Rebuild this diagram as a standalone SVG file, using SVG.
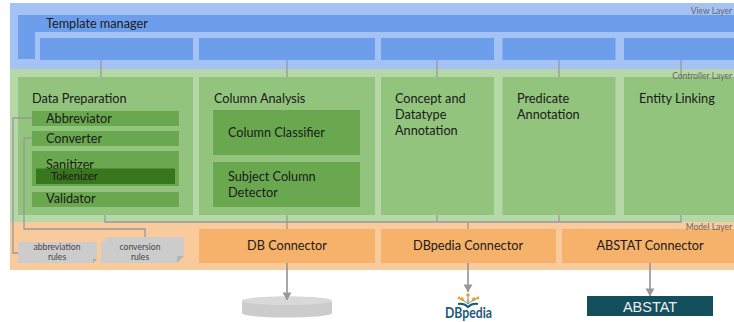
<svg xmlns="http://www.w3.org/2000/svg" width="734" height="322" viewBox="0 0 734 322">
<style>
text{font-family:Lato,"Liberation Sans",sans-serif;fill:#1a1a1a}
.t{font-size:12.700px}
.c{text-anchor:middle}
.layer{font-size:8.500px;fill:#666;text-anchor:end}
.rule{font-size:8.600px;fill:#444;text-anchor:middle}
.v{fill:#6d9eeb}
.g{fill:#93c47d}
.s{fill:#6aa84f}
.o{fill:#f6b26b}
.n{fill:#ccc}
.w{fill:none;stroke:#999;stroke-width:1.300}
.a{fill:none;stroke:#999;stroke-width:1.700;marker-end:url(#arr)}
</style>
<defs>
<marker id="arr" viewBox="0 0 10 10" refX="9.500" refY="5" markerWidth="8" markerHeight="9" markerUnits="userSpaceOnUse" orient="auto-start-reverse" preserveAspectRatio="none"><path d="M0 0L10 5L0 10Z" fill="#999"/></marker>
</defs>
<g id="layers">
<rect x="10" y="3" width="724" height="66" fill="#a4c2f4"/>
<rect x="10" y="69" width="724" height="153" fill="#b6d7a8"/>
<rect x="10" y="222" width="724" height="48" fill="#f9cb9c"/>
</g>
<g id="template-manager">
<path class="v" d="M18 15H734V32H35V59H18Z"/>
<text class="t" x="46" y="28">Template manager</text>
</g>
<g id="view-boxes">
<rect class="v" x="40" y="38" width="153" height="22"/>
<rect class="v" x="199" y="38" width="176" height="22"/>
<rect class="v" x="381" y="38" width="113" height="22"/>
<rect class="v" x="502.500" y="38" width="113" height="22"/>
<rect class="v" x="624" y="38" width="110" height="22"/>
</g>
<g id="data-preparation">
<rect class="g" x="18" y="77" width="175" height="138"/>
<text class="t" x="32" y="103">Data Preparation</text>
<g id="abbreviator"><rect class="s" x="32" y="111" width="147" height="15"/><text class="t" x="46" y="123">Abbreviator</text></g>
<g id="converter"><rect class="s" x="32" y="131" width="147" height="15"/><text class="t" x="46" y="143">Converter</text></g>
<g id="sanitizer"><rect class="s" x="32" y="151" width="147" height="35"/><text class="t" x="46" y="169">Sanitizer</text></g>
<g id="tokenizer"><rect x="36" y="168.500" width="139" height="15.500" fill="#38761d"/><text x="51" y="180" style="font-size:11.200px">Tokenizer</text></g>
<g id="validator"><rect class="s" x="32" y="192" width="147" height="15"/><text class="t" x="46" y="203">Validator</text></g>
</g>
<g id="column-analysis">
<rect class="g" x="199" y="77" width="176" height="138"/>
<text class="t" x="214" y="103">Column Analysis</text>
<g id="column-classifier"><rect class="s" x="213" y="110" width="147" height="45"/><text class="t" x="228" y="137">Column Classifier</text></g>
<g id="subject-detector"><rect class="s" x="213" y="162" width="147" height="45"/><text class="t" x="228" y="181">Subject Column</text><text class="t" x="228" y="197">Detector</text></g>
</g>
<g id="concept-annotation">
<rect class="g" x="381" y="77" width="113" height="138"/>
<text class="t" x="395" y="103">Concept and</text><text class="t" x="395" y="119">Datatype</text><text class="t" x="395" y="135">Annotation</text>
</g>
<g id="predicate-annotation">
<rect class="g" x="502.500" y="77" width="113" height="138"/>
<text class="t" x="517" y="103">Predicate</text><text class="t" x="517" y="119">Annotation</text>
</g>
<g id="entity-linking">
<rect class="g" x="624" y="77" width="110" height="138"/>
<text class="t" x="639" y="103">Entity Linking</text>
</g>
<g id="db-connector"><rect class="o" x="199" y="229" width="176" height="34"/><text class="t c" x="287" y="250">DB Connector</text></g>
<g id="dbpedia-connector"><rect class="o" x="381" y="229" width="175" height="34"/><text class="t c" x="468" y="250">DBpedia Connector</text></g>
<g id="abstat-connector"><rect class="o" x="562" y="229" width="172" height="34"/><text class="t c" x="650" y="250">ABSTAT Connector</text></g>
<g id="abbreviation-rules">
<path class="n" d="M18 242H97V259L93 263H18Z"/>
<path d="M97 259H93V263Z" fill="#aaa"/>
<text class="rule" x="57" y="250">abbreviation</text><text class="rule" x="57" y="259.500">rules</text>
</g>
<g id="conversion-rules">
<path class="n" d="M105 237H184V256L177 263H101V242H105Z"/>
<path d="M184 256H177V263Z" fill="#b5b5b5"/>
<text class="rule" x="140" y="250">conversion</text><text class="rule" x="140" y="259.500">rules</text>
</g>
<g id="connectors">
<path class="w" d="M101 60V77M287 60V77M437 60V77M559 60V77M681 60V77"/>
<path class="w" d="M105 215V222H681V215M287 215V229M437 215V222M468 222V229M559 215V222"/>
<path class="w" d="M32 118H13V253H18"/>
<path class="w" d="M32 138H24V229H145V237"/>
</g>
<g id="database">
<path class="n" d="M242 301C242 295 332 295 332 301V313C332 319 242 319 242 313Z"/>
<ellipse cx="287" cy="301" rx="45" ry="4" fill="#d9d9d9"/>
</g>
<g id="dbpedia">
<path d="M468 304L462 299M468 304L474 299M468 304V295M464 301L459 298M472 301L478 298" fill="none" stroke="#3d7ea6" stroke-width=".8"/>
<path d="M458 304Q464 303 468 307Q472 303 478 304" fill="none" stroke="#1b5a7a" stroke-width="2"/>
<g fill="#e8a020"><circle cx="462" cy="299" r="1.800"/><circle cx="474" cy="299" r="1.800"/><circle cx="468" cy="295" r="1.800"/><circle cx="459" cy="298" r="1.400"/><circle cx="478" cy="298" r="1.400"/><circle cx="468" cy="301" r="1.400"/></g>
<text x="468.500" y="318" text-anchor="middle" textLength="47" lengthAdjust="spacingAndGlyphs" style="font-size:15px;font-weight:700;fill:#1b5a7a">DBpedia</text>
</g>
<g id="abstat"><rect x="587" y="296" width="126" height="20" fill="#134f5c"/><text class="c" x="650" y="312" style="font-family:'Liberation Sans',sans-serif;font-size:14.500px;fill:#eee">ABSTAT</text></g>
<g id="arrows">
<path class="a" d="M287 263V300"/>
<path class="a" d="M468 263V292"/>
<path class="a" d="M650 263V296"/>
</g>
<g id="layer-labels">
<text class="layer" x="732" y="14">View Layer</text>
<text class="layer" x="732" y="79">Controller Layer</text>
<text class="layer" x="732" y="230">Model Layer</text>
</g>
</svg>
